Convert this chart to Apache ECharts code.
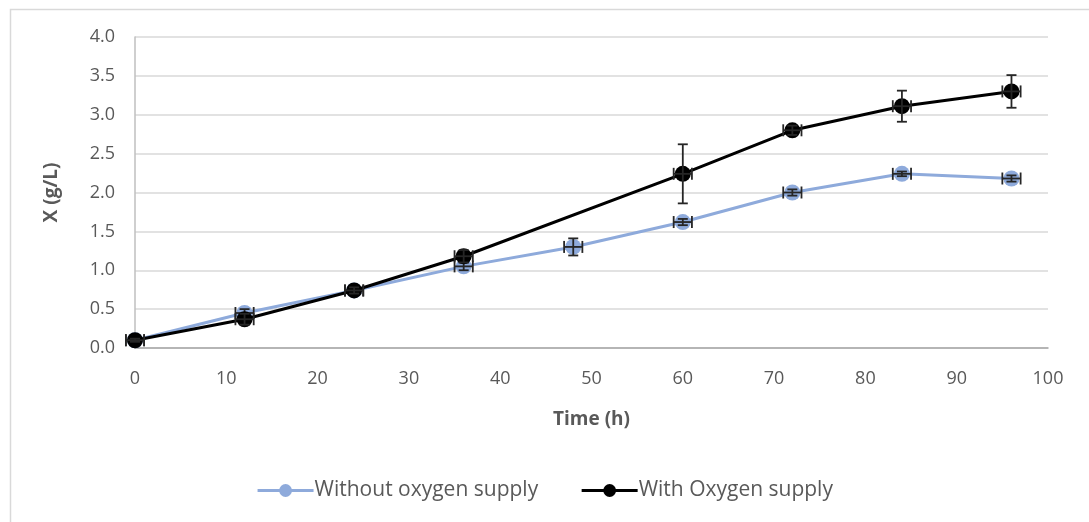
<!DOCTYPE html>
<html>
<head>
<meta charset="utf-8">
<script src="https://cdn.jsdelivr.net/npm/echarts@6/dist/echarts.min.js"></script>
<style>html,body{margin:0;padding:0;background:#fff;}#c{width:1089px;height:522px;}</style>
</head>
<body>
<div id="c"></div>
<script>
const timeWithout = [0, 12, 24, 36, 48, 60, 72, 84, 96];
const xWithout = [0.10, 0.45, 0.74, 1.05, 1.30, 1.62, 2.00, 2.24, 2.18];
const errWithout = [0.02, 0.05, 0.03, 0.05, 0.11, 0.04, 0.04, 0.03, 0.04];
const timeWith = [0, 12, 24, 36, 60, 72, 84, 96];
const xWith = [0.10, 0.37, 0.74, 1.18, 2.24, 2.80, 3.11, 3.30];
const errWith = [0.02, 0.07, 0.04, 0.08, 0.38, 0.06, 0.20, 0.21];
const timeErr = 1.0;
const xTicks = [0,10,20,30,40,50,60,70,80,90,100];
const yTicks = [0,0.5,1,1.5,2,2.5,3,3.5,4];

const FONT = 'Open Sans';
const TXT = '#595959';

function pts(t, v){ return t.map((x,i)=>[x, v[i]]); }
function errData(t, v, e){ return t.map((x,i)=>[x, v[i], e[i], timeErr]); }

function errRender(color){
  return function(params, api){
    const x = api.value(0), y = api.value(1), e = api.value(2), xe = api.value(3);
    const c = api.coord([x, y]);
    const top = api.coord([x, y + e]);
    const bot = api.coord([x, y - e]);
    const l = api.coord([x - xe, y]);
    const r = api.coord([x + xe, y]);
    const cap = 5;
    const st = {stroke: color, lineWidth: 1.8};
    const ch = [];
    ch.push({type:'line', shape:{x1:c[0], y1:top[1], x2:c[0], y2:bot[1]}, style:st});
    ch.push({type:'line', shape:{x1:c[0]-cap, y1:top[1], x2:c[0]+cap, y2:top[1]}, style:st});
    ch.push({type:'line', shape:{x1:c[0]-cap, y1:bot[1], x2:c[0]+cap, y2:bot[1]}, style:st});
    ch.push({type:'line', shape:{x1:l[0], y1:c[1], x2:r[0], y2:c[1]}, style:st});
    ch.push({type:'line', shape:{x1:l[0], y1:c[1]-cap-1, x2:l[0], y2:c[1]+cap+1}, style:st});
    ch.push({type:'line', shape:{x1:r[0], y1:c[1]-cap-1, x2:r[0], y2:c[1]+cap+1}, style:st});
    return {type:'group', children: ch};
  };
}

const chart = echarts.init(document.getElementById('c'), null, {renderer:'canvas'});
chart.setOption({
  backgroundColor: '#fff',
  animation: false,
  graphic: [
    {type:'rect', left: 8, top: 7, shape:{width: 1200, height: 600}, style:{fill:'none', stroke:'#d9d9d9', lineWidth:1.5}, silent:true, z:-10}
  ],
  grid: {left: 135, right: 41, top: 37, bottom: 174, containLabel: false},
  xAxis: {
    type: 'value', min: 0, max: 100, interval: 10,
    name: 'Time (h)', nameLocation: 'middle', nameGap: 62,
    nameTextStyle: {fontFamily: FONT, fontSize: 19, fontWeight: 'bold', color: TXT},
    axisLine: {lineStyle: {color: '#a6a6a6', width: 1.5}},
    axisTick: {show: false},
    splitLine: {show: false},
    axisLabel: {fontFamily: FONT, fontSize: 18, color: TXT, margin: 22,
      formatter: v => xTicks.includes(v) ? String(v) : ''}
  },
  yAxis: {
    type: 'value', min: 0, max: 4, interval: 0.5,
    name: 'X (g/L)', nameLocation: 'middle', nameGap: 74, nameRotate: 90,
    nameTextStyle: {fontFamily: FONT, fontSize: 19, fontWeight: 'bold', color: TXT},
    axisLine: {show: true, lineStyle: {color: '#bfbfbf', width: 1.5}},
    axisTick: {show: false},
    splitLine: {lineStyle: {color: '#d9d9d9', width: 1.5}},
    axisLabel: {fontFamily: FONT, fontSize: 18, color: TXT, margin: 20,
      formatter: v => yTicks.includes(v) ? v.toFixed(1) : ''}
  },
  legend: {
    bottom: 16, left: 'center', itemGap: 42, itemWidth: 56, itemHeight: 16,
    textStyle: {fontFamily: FONT, fontSize: 21, color: TXT, padding:[0,0,0,-4]},
    lineStyle: {width: 3},
    data: ['Without oxygen supply', 'With Oxygen supply']
  },
  series: [
    {
      name: 'Without oxygen supply', type: 'line', data: pts(timeWithout, xWithout),
      symbol: 'circle', symbolSize: 16, color: '#8eaadb',
      lineStyle: {width: 3, color: '#8eaadb'}, itemStyle: {color: '#8eaadb'}, z: 2
    },
    {
      name: 'errWithout', type: 'custom', data: errData(timeWithout, xWithout, errWithout),
      renderItem: errRender('#262626'), z: 3, silent: true
    },
    {
      name: 'With Oxygen supply', type: 'line', data: pts(timeWith, xWith),
      symbol: 'circle', symbolSize: 16, color: '#000',
      lineStyle: {width: 3, color: '#000'}, itemStyle: {color: '#000'}, z: 4
    },
    {
      name: 'errWith', type: 'custom', data: errData(timeWith, xWith, errWith),
      renderItem: errRender('#262626'), z: 5, silent: true
    }
  ]
});
</script>
</body>
</html>
